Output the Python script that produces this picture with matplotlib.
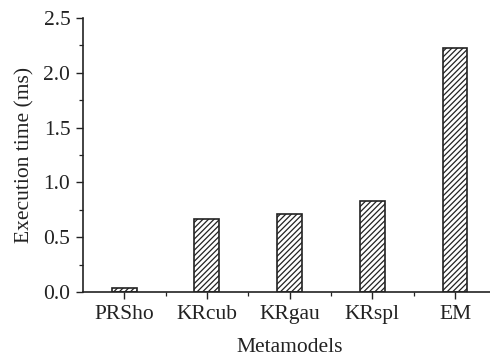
import matplotlib
matplotlib.use('Agg')
import matplotlib.pyplot as plt
from matplotlib.ticker import MultipleLocator, FixedLocator
import numpy as np

models = ['PRSho', 'KRcub', 'KRgau', 'KRspl', 'EM']
exec_time = [0.04, 0.67, 0.71, 0.83, 2.23]

plt.rcParams['font.family'] = ['Liberation Serif', 'DejaVu Serif']
plt.rcParams['hatch.linewidth'] = 0.9

fig = plt.figure(figsize=(4.9, 3.58), dpi=100)
ax = fig.add_axes([0.169, 0.184, 0.844, 0.766])

x = np.arange(1, len(models) + 1)
ax.bar(x, exec_time, width=0.3, color='white', edgecolor='#222222',
       hatch='//////', linewidth=1.2, zorder=2)

ax.set_xlim(0.5, 5.5)
ax.set_ylim(0, 2.5)
ax.set_xticks(x)
ax.set_xticklabels(models)
ax.xaxis.set_minor_locator(FixedLocator(x[:-1] + 0.5))
ax.yaxis.set_major_locator(MultipleLocator(0.5))
ax.yaxis.set_minor_locator(MultipleLocator(0.25))
ax.yaxis.set_major_formatter(plt.FormatStrFormatter('%.1f'))

for s in ['top', 'right']:
    ax.spines[s].set_visible(False)
for s in ['left', 'bottom']:
    ax.spines[s].set_linewidth(1.2)
    ax.spines[s].set_color('#222222')

ax.tick_params(which='major', direction='out', length=5, width=1.0,
               color='#222222', labelsize=15.5, labelcolor='#222222', pad=4)
ax.tick_params(which='minor', direction='out', length=3, width=0.9,
               color='#222222')

ax.set_xlabel('Metamodels', fontsize=15.5, color='#222222', labelpad=10)
ax.set_ylabel('Execution time (ms)', fontsize=15.5, color='#222222', labelpad=6)

fig.savefig('out.png', dpi=100)
